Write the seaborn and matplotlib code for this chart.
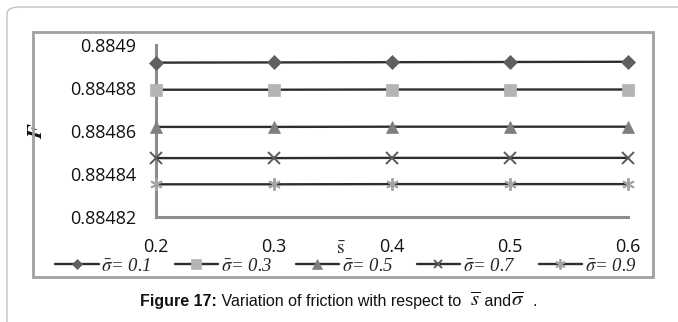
import matplotlib
matplotlib.use("Agg")
import matplotlib.pyplot as plt
import seaborn as sns
import numpy as np
import pandas as pd
from matplotlib.patches import FancyBboxPatch, Rectangle

s_vals = [0.2, 0.3, 0.4, 0.5, 0.6]
sigma_labels = ["0.1", "0.3", "0.5", "0.7", "0.9"]
F_s01 = [0.8848918, 0.8848919, 0.8848920, 0.8848921, 0.8848922]
F_s03 = [0.8848792, 0.8848792, 0.8848793, 0.8848793, 0.8848793]
F_s05 = [0.8848619, 0.8848619, 0.8848620, 0.8848620, 0.8848620]
F_s07 = [0.8848474, 0.8848474, 0.8848475, 0.8848475, 0.8848475]
F_s09 = [0.8848352, 0.8848352, 0.8848353, 0.8848353, 0.8848353]
yticks = [0.88482, 0.88484, 0.88486, 0.88488, 0.8849]
ytick_labels = ["0.88482", "0.88484", "0.88486", "0.88488", "0.8849"]
xticks = [0.2, 0.3, 0.4, 0.5, 0.6]

series = [F_s01, F_s03, F_s05, F_s07, F_s09]
markers = ["D", "s", "^", "x", (6, 2, 0)]
msizes = [7, 9, 9, 8, 9]
mcolors = ["#5f5f5f", "#b4b4b4", "#7f7f7f", "#5a5a5a", "#a4a4a4"]
line_color = "#2e2e2e"

sns.set_style("white")
plt.rcParams["mathtext.fontset"] = "stix"
W, H = 678, 322
fig = plt.figure(figsize=(W / 100, H / 100), dpi=100)

def fx(px):
    return px / W
def fy(py):
    return 1 - py / H

# outer rounded frame
outer = FancyBboxPatch((fx(7), fy(330)), fx(700) - fx(7), fy(7) - fy(330),
                       boxstyle="round,pad=0,rounding_size=0.02",
                       transform=fig.transFigure, fill=False,
                       edgecolor="#c4c4c4", linewidth=1.0, clip_on=False)
fig.patches.append(outer)
# inner chart frame
inner = Rectangle((fx(33), fy(277)), fx(653) - fx(33), fy(32) - fy(277),
                  transform=fig.transFigure, fill=False,
                  edgecolor="#a0a0a0", linewidth=2.0)
fig.patches.append(inner)

ax = fig.add_axes([fx(156), fy(217), fx(628) - fx(156), fy(45) - fy(217)])
ax.set_facecolor("none")

for vals, lab, m, ms, mc in zip(series, sigma_labels, markers, msizes, mcolors):
    df = pd.DataFrame({"s": s_vals, "F": vals})
    thin = (m == "x") or isinstance(m, tuple)
    sns.lineplot(data=df, x="s", y="F", ax=ax, color=line_color, linewidth=1.7,
                 marker=m, markersize=ms, markerfacecolor=mc, markeredgecolor=mc,
                 markeredgewidth=1.4 if thin else 0.5,
                 label=r"$\bar{\sigma}$= " + lab, clip_on=False, zorder=3)

ax.set_xlim(0.2, 0.6)
ax.set_ylim(0.88482, 0.8849)
ax.set_xticks(xticks)
ax.set_xticklabels([f"{v:.1f}" for v in xticks])
ax.set_yticks(yticks)
ax.set_yticklabels(ytick_labels)
ax.tick_params(axis="both", length=0, labelsize=13, colors="#111111")
ax.tick_params(axis="x", pad=15)
ax.tick_params(axis="y", pad=14)
for lbl in ax.get_xticklabels() + ax.get_yticklabels():
    lbl.set_fontfamily("Open Sans")

for side in ["top", "right"]:
    ax.spines[side].set_visible(False)
for side in ["left", "bottom"]:
    ax.spines[side].set_color("#8c8c8c")
    ax.spines[side].set_linewidth(2.2)

ax.set_xlabel(r"$\bar{\mathrm{s}}$", fontsize=14, color="#222222")
ax.xaxis.set_label_coords((341 - 156) / 472, (217 - 239) / 172)
ax.set_ylabel(r"$\boldsymbol{F}$", fontsize=16, color="#111111")
ax.yaxis.set_label_coords((46 - 156) / 472, 0.5)

leg = ax.legend(loc="center", bbox_to_anchor=(fx(346), fy(266)),
                bbox_transform=fig.transFigure, ncol=5, frameon=False,
                handlelength=2.3, handletextpad=0.15, columnspacing=1.25,
                markerscale=0.8,
                prop={"family": "Liberation Serif", "style": "italic", "size": 13.5},
                borderaxespad=0, borderpad=0)

# caption with mixed fonts
fig.canvas.draw()
renderer = fig.canvas.get_renderer()
pieces = [
    ("Figure 17:", dict(fontfamily="Liberation Sans", fontweight="bold", fontsize=11.5)),
    (" Variation of friction with respect to  ", dict(fontfamily="Liberation Sans", fontsize=11.5)),
    (r"$\overline{s}$", dict(fontsize=15)),
    (" and", dict(fontfamily="Liberation Sans", fontsize=11.5)),
    (r"$\overline{\sigma}$", dict(fontsize=15)),
    ("  .", dict(fontfamily="Liberation Sans", fontsize=11.5)),
]
x = fx(140)
yb = fy(306)
for txt, kw in pieces:
    t = fig.text(x, yb, txt, ha="left", va="baseline", color="#111111", **kw)
    bb = t.get_window_extent(renderer=renderer)
    x += bb.width / W

fig.savefig("out.png", dpi=100)
